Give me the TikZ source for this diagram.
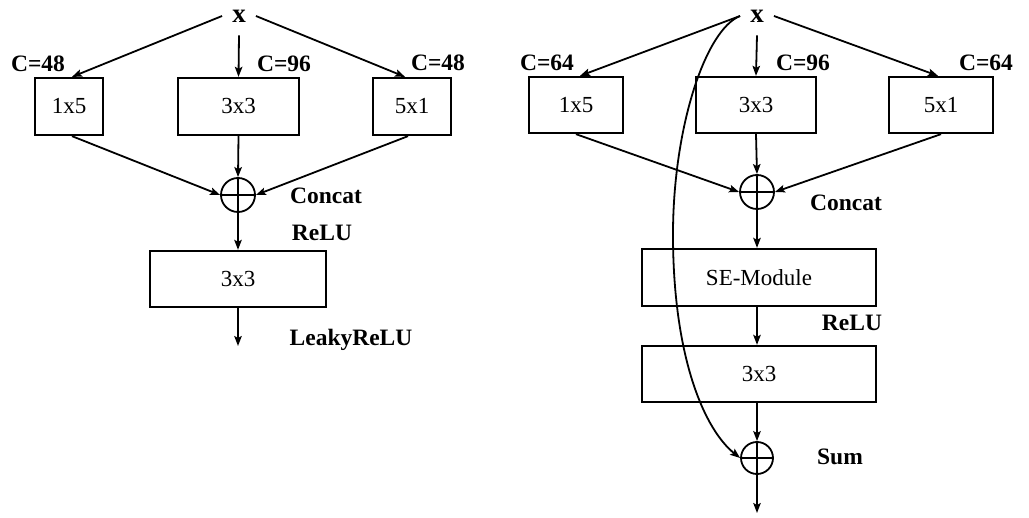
\documentclass[tikz,border=0pt]{standalone}
\usepackage{fontspec}
\setmainfont{Liberation Serif}
\usetikzlibrary{arrows.meta}
\begin{document}
\begin{tikzpicture}[x=1pt,y=-1pt,
  box/.style={draw,line width=2.3pt,inner sep=0pt,font=\fontsize{23}{25}\selectfont},
  sumc/.style={draw,circle,line width=1.8pt,minimum size=34pt,inner sep=0pt},
  lbl/.style={font=\bfseries\fontsize{23.5}{25}\selectfont,inner sep=0pt,text depth=0pt},
  xlbl/.style={font=\bfseries\fontsize{27}{29}\selectfont,inner xsep=10pt,inner ysep=13pt,text depth=0pt},
  arr/.style={line width=1.8pt,-{Stealth[length=10pt,width=7.5pt,inset=2pt]}},
  ln/.style={line width=1.8pt}]
\useasboundingbox[fill=white] (0,0) rectangle (1029,518);

% ---------- left block ----------
\node[xlbl] (xL) at (239,16) {x};
\node[box,minimum width=68pt,minimum height=57pt] (a1) at (69,106.5) {1x5};
\node[box,minimum width=121pt,minimum height=57pt] (a2) at (238.5,106.5) {3x3};
\node[box,minimum width=78pt,minimum height=57pt] (a3) at (412,106.5) {5x1};
\node[sumc] (aS) at (238,195) {};
\node[box,minimum width=176pt,minimum height=56pt] (a4) at (238,279) {3x3};
\coordinate (aO) at (238,346);

\node[lbl] (la1) at (38,64) {C=48};
\node[lbl] (la2) at (284,64) {C=96};
\node[lbl] (la3) at (438,63) {C=48};
\node[lbl] (la4) at (326,196) {Concat};
\node[lbl] (la5) at (322,233) {ReLU};
\node[lbl] (la6) at (351,337) {LeakyReLU};

\draw[arr] (xL.west) -- ([xshift=3pt]a1.north);
\draw[arr] (xL.south) -- (a2.north);
\draw[arr] (xL.east) -- ([xshift=-7pt]a3.north);
\draw[arr] ([xshift=3pt]a1.south) -- (aS.west);
\draw[arr] (a2.south) -- (aS.north);
\draw[arr] ([xshift=-4pt]a3.south) -- (aS.east);
\draw[ln] (aS.north) -- (aS.south) (aS.west) -- (aS.east);
\draw[arr] (aS.south) -- (a4.north);
\draw[arr] (a4.south) -- (aO);

% ---------- right block ----------
\node[xlbl] (xR) at (757,16) {x};
\node[box,minimum width=94pt,minimum height=56pt] (b1) at (576,105) {1x5};
\node[box,minimum width=120pt,minimum height=56pt] (b2) at (756,105) {3x3};
\node[box,minimum width=104pt,minimum height=56pt] (b3) at (941,105) {5x1};
\node[sumc] (bS) at (757,192) {};
\node[box,minimum width=234pt,minimum height=57pt] (b4) at (759,277.5) {SE-Module};
\node[box,minimum width=234pt,minimum height=56pt] (b5) at (759,374) {3x3};
\node[sumc,minimum size=32pt] (bT) at (757,458) {};
\coordinate (bO) at (757,513);

\node[lbl] (lb1) at (547,63) {C=64};
\node[lbl] (lb2) at (803,63) {C=96};
\node[lbl] (lb3) at (986,63) {C=64};
\node[lbl] (lb4) at (846,203) {Concat};
\node[lbl] (lb5) at (852,323) {ReLU};
\node[lbl] (lb6) at (840,457) {Sum};

\draw[arr] (xR.west) -- ([xshift=4pt]b1.north);
\draw[arr] (xR.south) -- (b2.north);
\draw[arr] (xR.east) -- ([xshift=-3pt]b3.north);
\draw[arr] (b1.south) -- (bS.west);
\draw[arr] (b2.south) -- (bS.north);
\draw[arr] (b3.south) -- (bS.east);
\draw[ln] (bS.north) -- (bS.south) (bS.west) -- (bS.east);
\draw[arr] (bS.south) -- (bS.south |- b4.north);
\draw[arr] (bS.south |- b4.south) -- (bS.south |- b5.north);
\draw[arr] (bT.north |- b5.south) -- (bT.north);
\draw[ln] (bT.north) -- (bT.south) (bT.west) -- (bT.east);
\draw[arr] (bT.south) -- (bO);
\draw[arr] (xR.west) .. controls (705,30) and (672,130) .. (673,240)
  .. controls (674,360) and (705,430) .. (bT.west);
\end{tikzpicture}
\end{document}
